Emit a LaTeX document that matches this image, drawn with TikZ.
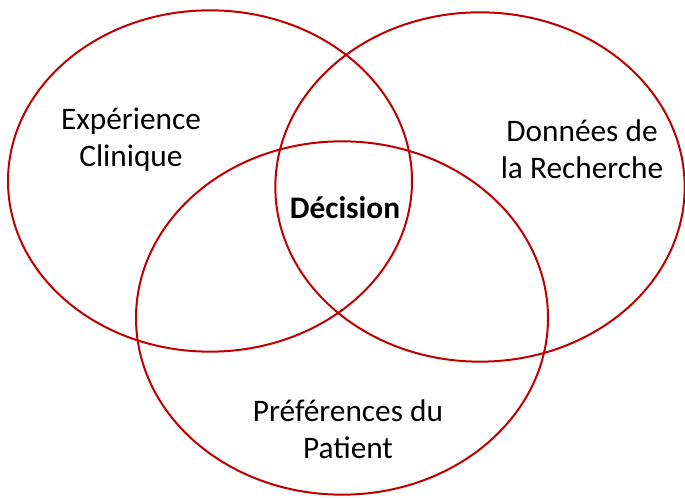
\documentclass[tikz,border=0pt]{standalone}
\usepackage{fontspec}
\setmainfont{Carlito}
\usetikzlibrary{shapes.geometric,positioning}
\definecolor{venn}{RGB}{192,0,0}
\tikzstyle{set}=[ellipse, draw=venn, line width=1.5pt]
\tikzstyle{label}=[align=center, text=black, font=\fontsize{23.5}{27.75}\selectfont]
\tikzset{y=-0.75pt}
\tikzset{x=0.75pt}

\begin{document}
\begin{tikzpicture}
  \useasboundingbox (0,0) rectangle (685,498);
  %% The three sets
  \draw (210,181) node[set,minimum width=303pt,minimum height=256pt] (clinique) {};
  \draw (480,187) node[set,minimum width=307pt,minimum height=262pt] (recherche) {};
  \draw (342,318) node[set,minimum width=309pt,minimum height=265pt] (patient) {};

  %% Labels
  \draw (131,140) node[label] (Lclinique) {Expérience\\Clinique};
  \draw (582,149) node[label] (Lrecherche) {Données de\\la Recherche};
  \draw (348,429) node[label] (Lpatient) {Préférences du\\Patient};
  \draw (345,208) node[label,font=\fontsize{23.5}{27.75}\selectfont\bfseries] (decision) {Décision};
\end{tikzpicture}
\end{document}
